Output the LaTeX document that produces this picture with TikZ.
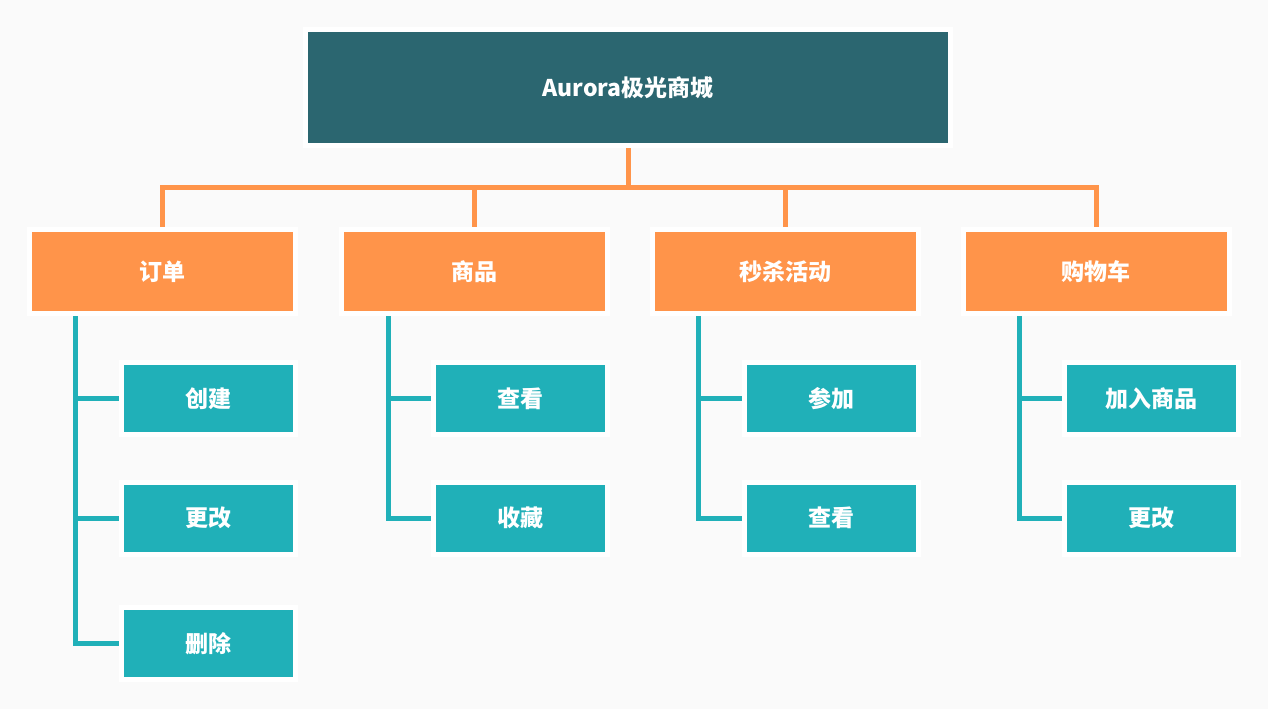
\documentclass[tikz,border=0pt]{standalone}
\usepackage{fontspec}
\newfontfamily\cjk{Noto Sans CJK SC}
\usetikzlibrary{backgrounds}
\definecolor{bgc}{HTML}{FAFAFA}
\definecolor{topc}{HTML}{2B6670}
\definecolor{orc}{HTML}{FF944A}
\definecolor{tlc}{HTML}{20B0B8}
\tikzset{
  box/.style={draw=white, line width=5pt, inner sep=0pt, text=white,
    font=\cjk\bfseries\fontsize{23}{27}\selectfont},
  topbox/.style={box, fill=topc, minimum width=645pt, minimum height=116pt},
  catbox/.style={box, fill=orc, minimum width=266pt, minimum height=84pt},
  leafbox/.style={box, fill=tlc, minimum width=174pt, minimum height=72pt},
  oline/.style={draw=orc, line width=5pt},
  tline/.style={draw=tlc, line width=5pt},
}
\begin{document}
\begin{tikzpicture}[x=1pt, y=-1pt]
\useasboundingbox (0,0) rectangle (1268,709);
\node[topbox] (top) at (628,87.5) {Aurora极光商城};
\node[catbox] (c1) at (162.5,271.5) {订单};
\node[catbox] (c2) at (474.5,271.5) {商品};
\node[catbox] (c3) at (785,271.5) {秒杀活动};
\node[catbox] (c4) at (1096,271.5) {购物车};
\node[leafbox] (a1) at (208.5,398.5) {创建};
\node[leafbox] (a2) at (208.5,518) {更改};
\node[leafbox] (a3) at (208.5,643.5) {删除};
\node[leafbox] (b1) at (520.5,398.5) {查看};
\node[leafbox] (b2) at (520.5,518) {收藏};
\node[leafbox] (d1) at (831.5,398.5) {参加};
\node[leafbox] (d2) at (831.5,518) {查看};
\node[leafbox] (e1) at (1151.5,398.5) {加入商品};
\node[leafbox] (e2) at (1151.5,518) {更改};
\coordinate (bus) at (0,187);
\coordinate (s1) at (75,0);
\coordinate (s2) at (388,0);
\coordinate (s3) at (698,0);
\coordinate (s4) at (1019,0);
\begin{scope}[on background layer]
  \fill[bgc] (0,0) rectangle (1268,709);
  \draw[oline] (top.south) -- (top.south |- bus);
  \draw[oline] (c1.north) -- (c1.north |- bus) -- (c4.north |- bus) -- (c4.north);
  \draw[oline] (c2.north |- bus) -- (c2.north);
  \draw[oline] (c3.north |- bus) -- (c3.north);
  \draw[tline] (s1 |- c1.south) -- (s1 |- a3.west) -- (a3.west);
  \draw[tline] (s1 |- a1.west) -- (a1.west);
  \draw[tline] (s1 |- a2.west) -- (a2.west);
  \draw[tline] (s2 |- c2.south) -- (s2 |- b2.west) -- (b2.west);
  \draw[tline] (s2 |- b1.west) -- (b1.west);
  \draw[tline] (s3 |- c3.south) -- (s3 |- d2.west) -- (d2.west);
  \draw[tline] (s3 |- d1.west) -- (d1.west);
  \draw[tline] (s4 |- c4.south) -- (s4 |- e2.west) -- (e2.west);
  \draw[tline] (s4 |- e1.west) -- (e1.west);
\end{scope}
\end{tikzpicture}
\end{document}
